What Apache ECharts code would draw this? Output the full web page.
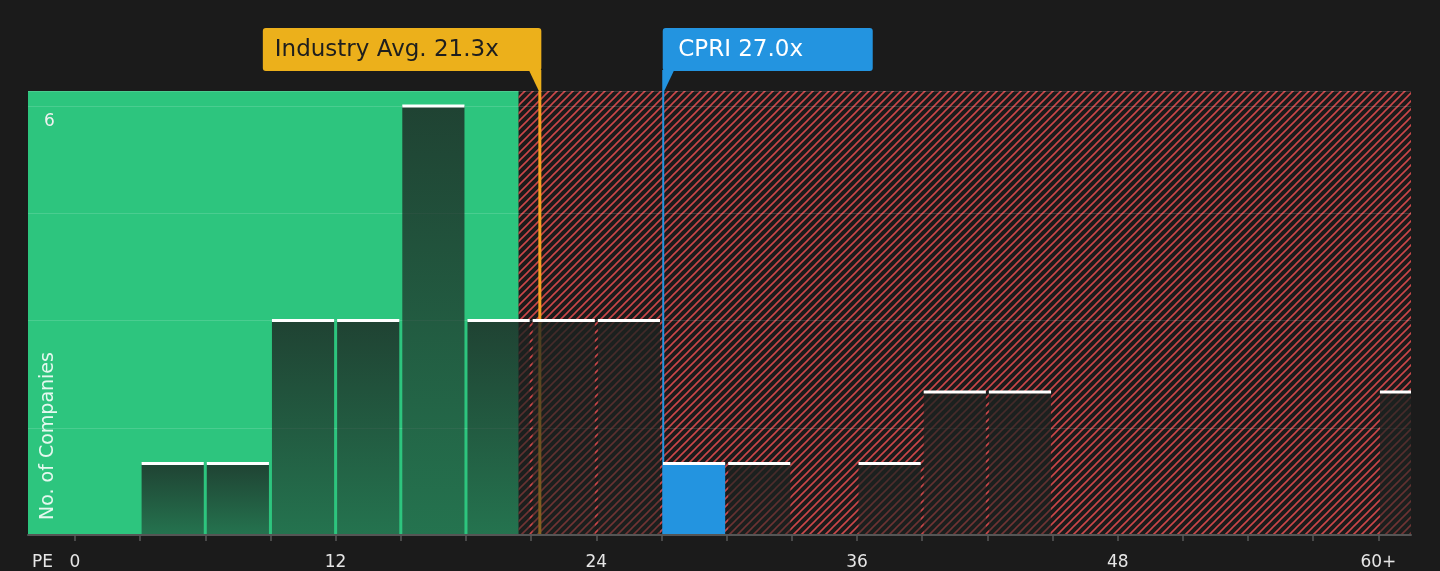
<!DOCTYPE html>
<html lang="en">
<head>
<meta charset="UTF-8">
<title>PE distribution</title>
<script src="https://cdn.jsdelivr.net/npm/echarts@6/dist/echarts.min.js"></script>
<style>
  html, body { margin: 0; padding: 0; background: #1b1b1b; }
  #chart { width: 1440px; height: 571px; }
</style>
</head>
<body>
<div id="chart"></div>
<script>
  // histogram bins (start of each 3-wide PE bin) and number of companies
  var binStarts = [3, 6, 9, 12, 15, 18, 21, 24, 27, 30, 36, 39, 42, 60];
  var binCounts = [1, 1, 3, 3, 6, 3, 3, 3, 1, 1, 1, 2, 2, 2];
  var binWidth = 3;
  var companyBin = 27;

  var xTickValues = [0, 3, 6, 9, 12, 15, 18, 21, 24, 27, 30, 33, 36, 39, 42, 45, 48, 51, 54, 57, 60];
  var xLabelValues = [0, 12, 24, 36, 48, 60];

  // marker positions as drawn on the axis, and their labels
  var industryAvgPos = 21.4;
  var industryLabel = 'Industry Avg. 21.3x';
  var companyPos = 27.08;
  var companyLabel = 'CPRI 27.0x';
  var goodLimit = 20.42;
  var xMin = -2.16, xMax = 61.5;
  var yMax = 6.21;

  // red diagonal hatch tile
  var tile = document.createElement('canvas');
  tile.width = 8; tile.height = 8;
  var tc = tile.getContext('2d');
  tc.strokeStyle = 'rgba(212,74,76,0.95)';
  tc.lineWidth = 1.6;
  tc.beginPath();
  tc.moveTo(-1, 9); tc.lineTo(9, -1);
  tc.moveTo(-5, 5); tc.lineTo(5, -5);
  tc.moveTo(3, 13); tc.lineTo(13, 3);
  tc.stroke();

  var bars = [];
  for (var i = 0; i < binStarts.length; i++) {
    bars.push([binStarts[i], binStarts[i] + binWidth, binCounts[i]]);
  }
  var zones = [[xMin, goodLimit, 0], [goodLimit, xMax, 1]];

  function renderZone(params, api) {
    var a = api.coord([api.value(0), yMax]);
    var b = api.coord([api.value(1), 0]);
    var fill = api.value(2) === 0 ? '#2dc57e' : { image: tile, repeat: 'repeat' };
    return {
      type: 'rect',
      shape: { x: a[0], y: a[1], width: b[0] - a[0], height: b[1] - a[1] },
      style: { fill: fill }
    };
  }

  function renderBar(params, api) {
    var start = api.value(0);
    var tl = api.coord([start, api.value(2)]);
    var br = api.coord([api.value(1), 0]);
    var x = tl[0] + 1.5;
    var w = br[0] - tl[0] - 3;
    var fill = start === companyBin ? '#2394e0' :
      new echarts.graphic.LinearGradient(0, 0, 0, 1, [
        { offset: 0, color: 'rgba(28,34,32,0.8)' },
        { offset: 1, color: 'rgba(28,34,32,0.5)' }
      ]);
    return {
      type: 'group',
      children: [
        { type: 'rect', shape: { x: x, y: tl[1], width: w, height: br[1] - tl[1] }, style: { fill: fill } },
        { type: 'rect', shape: { x: x, y: tl[1] - 1.5, width: w, height: 3 }, style: { fill: '#ffffff' } }
      ]
    };
  }

  var chart = echarts.init(document.getElementById('chart'));
  chart.setOption({
    backgroundColor: '#1b1b1b',
    animation: false,
    textStyle: { fontFamily: 'DejaVu Sans' },
    grid: { left: 28, right: 29, top: 91, bottom: 36, outerBoundsMode: 'none', containLabel: false },
    xAxis: {
      type: 'value',
      min: xMin,
      max: xMax,
      z: 4,
      splitLine: { show: false },
      axisLine: { lineStyle: { color: '#555555', width: 2 } },
      axisTick: { customValues: xTickValues, length: 6, lineStyle: { color: '#5a5a5a', width: 1.5 } },
      axisLabel: {
        customValues: xLabelValues,
        color: '#e6e6e6',
        fontSize: 17,
        margin: 19,
        formatter: function (v) { return v === 60 ? '60+' : String(v); }
      }
    },
    yAxis: {
      type: 'value',
      min: 0,
      max: yMax,
      interval: 1.5,
      z: 1.5,
      axisLine: { show: false },
      axisTick: { show: false },
      splitLine: { lineStyle: { color: 'rgba(255,255,255,0.14)', width: 1 } },
      axisLabel: {
        inside: true,
        margin: 16,
        color: '#f0f0f0',
        fontSize: 17,
        verticalAlign: 'top',
        padding: [7, 0, 0, 0],
        formatter: function (v) { return v === 6 ? '6' : ''; }
      }
    },
    series: [
      {
        type: 'custom',
        z: 1,
        silent: true,
        renderItem: renderZone,
        data: zones,
        clip: true
      },
      {
        type: 'line',
        z: 2,
        symbol: 'none',
        silent: true,
        lineStyle: { color: '#f5a21f', width: 3 },
        data: [[industryAvgPos, 0], [industryAvgPos, yMax]]
      },
      {
        type: 'line',
        z: 2,
        symbol: 'none',
        silent: true,
        lineStyle: { color: '#2394e0', width: 2 },
        data: [[companyPos, 0], [companyPos, yMax]]
      },
      {
        type: 'custom',
        z: 3,
        silent: true,
        renderItem: renderBar,
        data: bars,
        clip: true
      }
    ]
  });

  var ax = chart.convertToPixel({ xAxisIndex: 0 }, industryAvgPos);
  var cx = chart.convertToPixel({ xAxisIndex: 0 }, companyPos);
  var plotTop = chart.convertToPixel({ yAxisIndex: 0 }, yMax);
  var plotBottom = chart.convertToPixel({ yAxisIndex: 0 }, 0);

  chart.setOption({
    graphic: [
      { type: 'rect', z: 10, shape: { x: ax - 277, y: 28, width: 278.5, height: 43, r: 3 }, style: { fill: '#ecb01b' } },
      { type: 'polygon', z: 10, shape: { points: [[ax - 11, 70], [ax + 1.5, 70], [ax + 1.5, plotTop], [ax - 1, plotTop]] }, style: { fill: '#ecb01b' } },
      { type: 'text', z: 11, x: ax - 265, y: 50, style: { text: industryLabel, fill: '#1e1e1e', font: '23px "DejaVu Sans"', align: 'left', verticalAlign: 'middle' } },
      { type: 'rect', z: 10, shape: { x: cx - 0.5, y: 28, width: 210, height: 43, r: 3 }, style: { fill: '#2394e0' } },
      { type: 'polygon', z: 10, shape: { points: [[cx - 1, 70], [cx + 11, 70], [cx + 1, plotTop], [cx - 1, plotTop]] }, style: { fill: '#2394e0' } },
      { type: 'text', z: 11, x: cx + 15, y: 50, style: { text: companyLabel, fill: '#ffffff', font: '23px "DejaVu Sans"', align: 'left', verticalAlign: 'middle' } },
      { type: 'text', z: 11, x: 32, y: plotBottom + 28, style: { text: 'PE', fill: '#e6e6e6', font: '17px "DejaVu Sans"', align: 'left', verticalAlign: 'middle' } },
      { type: 'text', z: 11, x: 48, y: plotBottom - 15, rotation: Math.PI / 2, style: { text: 'No. of Companies', fill: 'rgba(255,255,255,0.88)', font: '19px "DejaVu Sans"', align: 'left', verticalAlign: 'middle' } }
    ]
  });
</script>
</body>
</html>
